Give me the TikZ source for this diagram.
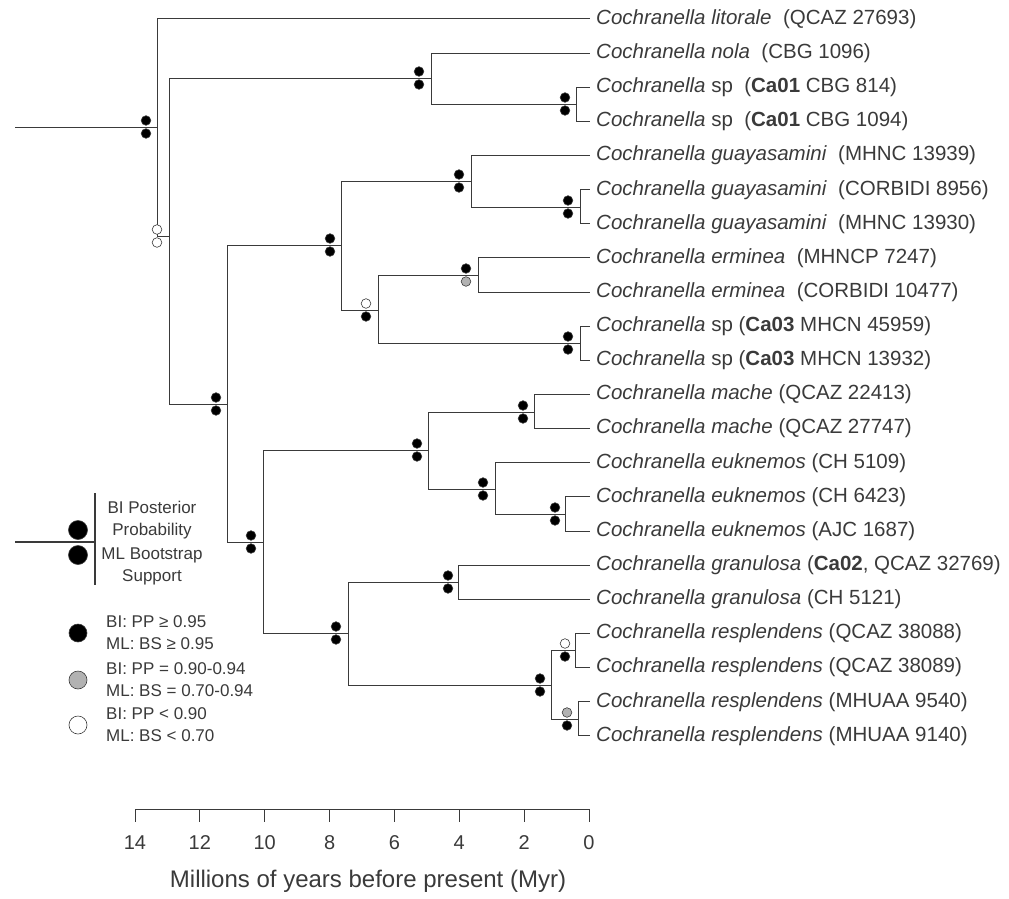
\documentclass[tikz,border=0pt]{standalone}
\usepackage{fontspec}
\setmainfont{Liberation Sans}
\usepackage{tikz}
\definecolor{ink}{HTML}{3A3A3A}
\tikzset{
  branch/.style={draw=ink,line width=1pt},
  bdot/.style={fill=black,draw=ink,line width=0.6pt},
  gdot/.style={fill=black!30,draw=ink,line width=0.6pt},
  wdot/.style={fill=white,draw=ink,line width=0.6pt},
  taxon/.style={anchor=west,inner sep=0pt,text=ink,font=\fontsize{20.5}{22}\selectfont},
  legtext/.style={text=ink,font=\fontsize{17}{22}\selectfont,align=left,inner sep=0pt}
}
% support dots: x, y, top style, bottom style
\newcommand{\supp}[4]{%
  \draw[#3] (#1,#2-6.5) circle(4.8);
  \draw[#4] (#1,#2+6.5) circle(4.8);
}
\begin{document}
\begin{tikzpicture}[x=1pt,y=-1pt]
        \useasboundingbox (0,0) rectangle (1009,899);

        % leaves
        \foreach \i/\txt in {
            0/{\textit{Cochranella litorale}\ \ (QCAZ 27693)},
            1/{\textit{Cochranella nola}\ \ (CBG 1096)},
            2/{\textit{Cochranella} sp\ \ (\textbf{Ca01} CBG 814)},
            3/{\textit{Cochranella} sp\ \ (\textbf{Ca01} CBG 1094)},
            4/{\textit{Cochranella guayasamini}\ \ (MHNC 13939)},
            5/{\textit{Cochranella guayasamini}\ \ (CORBIDI 8956)},
            6/{\textit{Cochranella guayasamini}\ \ (MHNC 13930)},
            7/{\textit{Cochranella erminea}\ \ (MHNCP 7247)},
            8/{\textit{Cochranella erminea}\ \ (CORBIDI 10477)},
            9/{\textit{Cochranella} sp (\textbf{Ca03} MHCN 45959)},
            10/{\textit{Cochranella} sp (\textbf{Ca03} MHCN 13932)},
            11/{\textit{Cochranella mache} (QCAZ 22413)},
            12/{\textit{Cochranella mache} (QCAZ 27747)},
            13/{\textit{Cochranella euknemos} (CH 5109)},
            14/{\textit{Cochranella euknemos} (CH 6423)},
            15/{\textit{Cochranella euknemos} (AJC 1687)},
            16/{\textit{Cochranella granulosa} (\textbf{Ca02}, QCAZ 32769)},
            17/{\textit{Cochranella granulosa} (CH 5121)},
            18/{\textit{Cochranella resplendens} (QCAZ 38088)},
            19/{\textit{Cochranella resplendens} (QCAZ 38089)},
            20/{\textit{Cochranella resplendens} (MHUAA 9540)},
            21/{\textit{Cochranella resplendens} (MHUAA 9140)}} {
                \coordinate (t\i) at (590,19+34.14*\i);
                \node[taxon] (lab\i) at (596,19+34.14*\i) {\txt};
        }

        % internal nodes
        \coordinate (stem) at (15,127);
        \coordinate (root) at (157,127);
        \coordinate (nB) at (169,236);
        \coordinate (nC) at (431,78);
        \coordinate (nD) at (576,104);
        \coordinate (nE) at (227,404);
        \coordinate (nF) at (341,245);
        \coordinate (nG) at (471,181);
        \coordinate (nH) at (580,207);
        \coordinate (nI) at (378,310);
        \coordinate (nJ) at (478,275);
        \coordinate (nK) at (580,343);
        \coordinate (nL) at (263,542);
        \coordinate (nM) at (428,450);
        \coordinate (nN) at (534,412);
        \coordinate (nO) at (495,489);
        \coordinate (nP) at (565,514);
        \coordinate (nQ) at (348,633);
        \coordinate (nR) at (458,582);
        \coordinate (nS) at (551,685);
        \coordinate (nT) at (575,650);
        \coordinate (nU) at (578,719);

        % branches
        \draw[branch] (stem) -- (root);
        \foreach \p/\c in {root/t0,root/nB,nB/nC,nB/nE,nC/t1,nC/nD,nD/t2,nD/t3,
                nE/nF,nE/nL,nF/nG,nF/nI,nG/t4,nG/nH,nH/t5,nH/t6,nI/nJ,nI/nK,
                nJ/t7,nJ/t8,nK/t9,nK/t10,nL/nM,nL/nQ,nM/nN,nM/nO,nN/t11,nN/t12,
                nO/t13,nO/nP,nP/t14,nP/t15,nQ/nR,nQ/nS,nR/t16,nR/t17,nS/nT,nS/nU,
                nT/t18,nT/t19,nU/t20,nU/t21}
                \draw[branch] (\p) |- (\c);

        % support values
        \foreach \x/\y/\a/\b in {146/127/bdot/bdot,157/236/wdot/wdot,419/78/bdot/bdot,
                565/104/bdot/bdot,216/404/bdot/bdot,330/245/bdot/bdot,459/181/bdot/bdot,
                568/207/bdot/bdot,366/310/wdot/bdot,466/275/bdot/gdot,568/343/bdot/bdot,
                251/542/bdot/bdot,417/450/bdot/bdot,523/412/bdot/bdot,483/489/bdot/bdot,
                555/514/bdot/bdot,336/633/bdot/bdot,448/582/bdot/bdot,540/685/bdot/bdot,
                565/650/wdot/bdot,567/719/gdot/bdot} {
                \supp{\x}{\y}{\a}{\b}
        }

        % legend
        \coordinate (lstem) at (15,542);
        \coordinate (lbar) at (95,542);
        \draw[branch,line width=2pt] (lstem) -- (lbar);
        \draw[branch,line width=2pt] (95,493) -- (95,585);
        \draw[bdot] (78,530) circle(9.5);
        \draw[bdot] (78,555) circle(9.5);
        \node[legtext,align=center] (pp) at (152,520) {BI Posterior\\Probability};
        \node[legtext,align=center] (bs) at (152,566) {ML Bootstrap\\Support};
        \foreach \y/\s/\t in {633/bdot/{BI: PP ≥ 0.95\\ML: BS ≥ 0.95},
                680/gdot/{BI: PP = 0.90-0.94\\ML: BS = 0.70-0.94},
                725/wdot/{BI: PP < 0.90\\ML: BS < 0.70}} {
                \draw[\s] (78,\y) circle(9);
                \node[legtext,anchor=west] at (106,\y) {\t};
        }

        % time axis
        \draw[branch,line width=0.9pt] (135,809) -- (589,809);
        \foreach \m in {0,2,...,14} {
                \draw[branch,line width=0.9pt] (589-32.43*\m,809) -- (589-32.43*\m,822);
                \node[text=ink,font=\fontsize{20}{22}\selectfont] at (589-32.43*\m,843) {\m};
        }
        \node[text=ink,font=\fontsize{24}{26}\selectfont] (xlab) at (368,881)
                {Millions of years before present (Myr)};
\end{tikzpicture}
\end{document}
